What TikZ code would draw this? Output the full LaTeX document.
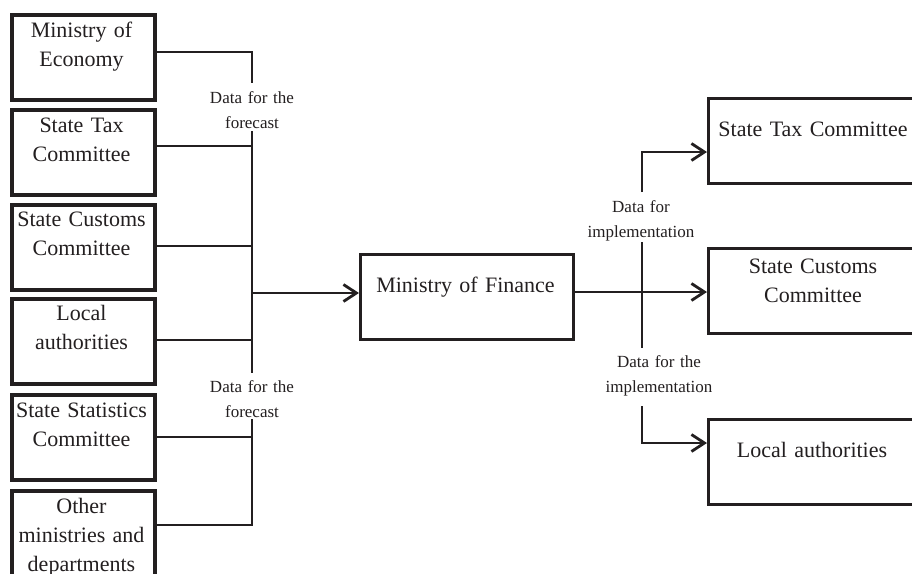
\documentclass[tikz,border=0pt]{standalone}
\usepackage{fontspec}
\setmainfont{Liberation Serif}
\usetikzlibrary{arrows.meta}
\definecolor{ink}{HTML}{231F20}
\begin{document}
\begin{tikzpicture}[x=1pt,y=-1pt,
 lbox/.style={draw=ink,line width=3.5pt,anchor=north west,minimum width=143pt,minimum height=85pt,inner sep=0pt},
 rbox/.style={draw=ink,line width=3.2pt,anchor=north west,minimum height=85pt,inner sep=0pt},
 btxt/.style={anchor=base,align=center,text width=150pt,font=\fontsize{22}{29}\selectfont,inner sep=0pt,text=ink},
 ltxt/.style={anchor=base,align=center,text width=130pt,font=\fontsize{17}{25}\selectfont,inner sep=0pt,text=ink},
 conn/.style={draw=ink,line width=2.8pt},
 arr/.style={conn,-{Straight Barb[length=13pt,width=17pt]}}]
\clip (0,0) rectangle (912,573);
\fill[white] (0,0) rectangle (912,573);
% left boxes
\node[lbox] (eco) at (10,13) {};
\node[lbox] (stc) at (10,108) {};
\node[lbox] (scc) at (10,203) {};
\node[lbox] (loa) at (10,297) {};
\node[lbox] (ssc) at (10,393) {};
\node[lbox] (oth) at (10,489) {};
\node[btxt] at (81.5,37) {Ministry of\\Economy};
\node[btxt] at (81.5,132) {State Tax\\Committee};
\node[btxt] at (81.5,226) {State Customs\\Committee};
\node[btxt] at (81.5,320) {Local\\authorities};
\node[btxt] at (81.5,417) {State Statistics\\Committee};
\node[btxt] at (81.5,513) {Other\\ministries and\\departments};
% centre
\node[rbox,minimum width=213pt] (mof) at (359,253) {};
\node[btxt,text width=210pt] at (465.5,292) {Ministry of Finance};
% right boxes
\node[rbox,minimum width=212pt] (tax) at (707,97) {};
\node[rbox,minimum width=212pt] (cus) at (707,247) {};
\node[rbox,minimum width=212pt] (loc) at (707,418) {};
\node[btxt,text width=210pt] at (813,136) {State Tax Committee};
\node[btxt,text width=210pt] at (813,273) {State Customs\\Committee};
\node[btxt,text width=210pt] at (812,457) {Local authorities};
% left bus coordinates
\coordinate (L1) at (252,52);
\coordinate (L1e) at (252,83);
\coordinate (L2s) at (252,131);
\coordinate (J2) at (252,146);
\coordinate (J3) at (252,246);
\coordinate (JM) at (252,293);
\coordinate (J4) at (252,340);
\coordinate (L2e) at (252,373);
\coordinate (L3s) at (252,419);
\coordinate (J5) at (252,437);
\coordinate (L6) at (252,525);
\draw[conn] (eco.east |- L1) -- (L1) -- (L1e);
\draw[conn] (L2s) -- (L2e);
\draw[conn] (L3s) -- (L6) -- (oth.east |- L6);
\draw[conn] (stc.east |- J2) -- (J2);
\draw[conn] (scc.east |- J3) -- (J3);
\draw[conn] (loa.east |- J4) -- (J4);
\draw[conn] (ssc.east |- J5) -- (J5);
\draw[arr] (JM) -- (mof.west |- JM);
\node[ltxt] at (252,103) {Data for the\\forecast};
\node[ltxt] at (252,392) {Data for the\\forecast};
% right bus
\coordinate (RT) at (642,152);
\coordinate (R1e) at (642,192);
\coordinate (R2s) at (642,242);
\coordinate (RM) at (642,292);
\coordinate (R2e) at (642,348);
\coordinate (R3s) at (642,406);
\coordinate (RL) at (642,443);
\draw[arr] (R1e) -- (RT) -- (tax.west |- RT);
\draw[conn] (R2s) -- (R2e);
\draw[arr] (mof.east |- RM) -- (cus.west |- RM);
\draw[arr] (R3s) -- (RL) -- (loc.west |- RL);
\node[ltxt] at (641,212) {Data for\\implementation};
\node[ltxt] at (659,367) {Data for the\\implementation};
\end{tikzpicture}
\end{document}
